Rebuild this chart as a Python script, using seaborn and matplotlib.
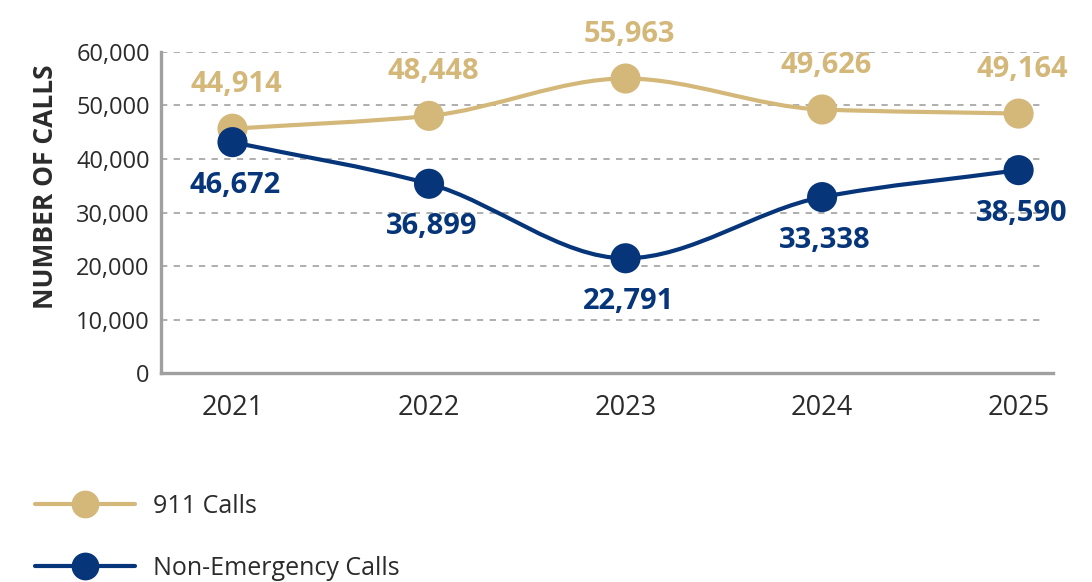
import numpy as np
import pandas as pd
import matplotlib
matplotlib.use("Agg")
import matplotlib.pyplot as plt
from matplotlib.path import Path
from matplotlib.patches import PathPatch
from matplotlib.lines import Line2D
from matplotlib.ticker import FuncFormatter
import seaborn as sns

# ---- data ----
years = ["2021", "2022", "2023", "2024", "2025"]
calls_911 = [45660, 48060, 55040, 49250, 48490]          # marker positions
calls_non_emergency = [43150, 35370, 21450, 32880, 37920]
labels_911 = ["44,914", "48,448", "55,963", "49,626", "49,164"]
labels_non_emergency = ["46,672", "36,899", "22,791", "33,338", "38,590"]
series_names = ["911 Calls", "Non-Emergency Calls"]
y_ticks = [0, 10000, 20000, 30000, 40000, 50000, 60000]

GOLD = "#D4B87A"
NAVY = "#06357A"
TEXT = "#2b2b2b"

sns.set_theme(style="white")
plt.rcParams["font.family"] = ["Open Sans", "DejaVu Sans"]

fig = plt.figure(figsize=(10.92, 5.82), dpi=100)
ax = fig.add_axes([0.1474, 0.359, 0.8169, 0.5517])

x = np.arange(len(years))
df = pd.DataFrame({
    "pos": np.concatenate([x, x]),
    "calls": calls_911 + calls_non_emergency,
    "series": [series_names[0]] * len(x) + [series_names[1]] * len(x),
})


def smooth_path(xs, ys):
    """Monotone cubic (Fritsch-Carlson) tangents turned into Bezier segments."""
    xs = np.asarray(xs, float)
    ys = np.asarray(ys, float)
    n = len(xs)
    h = np.diff(xs)
    d = np.diff(ys) / h
    m = np.zeros(n)
    m[0], m[-1] = d[0], d[-1]
    for i in range(1, n - 1):
        if d[i - 1] * d[i] <= 0:
            m[i] = 0.0
        else:
            m[i] = 2.0 / (1.0 / d[i - 1] + 1.0 / d[i])
    verts = [(xs[0], ys[0])]
    codes = [Path.MOVETO]
    for i in range(n - 1):
        verts += [(xs[i] + h[i] / 3, ys[i] + m[i] * h[i] / 3),
                  (xs[i + 1] - h[i] / 3, ys[i + 1] - m[i + 1] * h[i] / 3),
                  (xs[i + 1], ys[i + 1])]
        codes += [Path.CURVE4] * 3
    return Path(verts, codes)


# grid
for t in y_ticks[1:]:
    ax.axhline(t, xmax=0.985, color="#a8a8a8", lw=1.3, ls=(0, (3.5, 3.5)), zorder=0)

for vals, col in [(calls_911, GOLD), (calls_non_emergency, NAVY)]:
    ax.add_patch(PathPatch(smooth_path(x, vals), fill=False, edgecolor=col,
                           lw=3.0, zorder=2, capstyle="round"))

sns.scatterplot(data=df, x="pos", y="calls", hue="series",
                palette=[GOLD, NAVY], s=470, edgecolor="none",
                legend=False, ax=ax, zorder=3, clip_on=False)

for i in range(len(x)):
    ax.annotate(labels_911[i], (x[i], calls_911[i]), xytext=(3, 32),
                textcoords="offset points", ha="center", va="center",
                fontsize=21, fontweight="bold", color=GOLD, zorder=4)
    ax.annotate(labels_non_emergency[i], (x[i], calls_non_emergency[i]),
                xytext=(2, -31), textcoords="offset points", ha="center",
                va="center", fontsize=21, fontweight="bold", color=NAVY, zorder=4)

ax.set_xlim(-0.364, 4.175)
ax.set_ylim(0, 60000)
ax.set_xticks(x)
ax.set_xticklabels(years)
ax.set_yticks(y_ticks)
ax.yaxis.set_major_formatter(FuncFormatter(lambda v, p: f"{int(v):,}"))
ax.tick_params(axis="y", length=0, labelsize=17, colors=TEXT, pad=8)
ax.tick_params(axis="x", length=0, labelsize=19.5, colors=TEXT, pad=15)
ax.set_xlabel("")
ax.set_ylabel("NUMBER OF CALLS", fontsize=19, fontweight="bold", color=TEXT)
ax.yaxis.set_label_coords(-0.114, 0.58)

for side in ["top", "right"]:
    ax.spines[side].set_visible(False)
for side in ["left", "bottom"]:
    ax.spines[side].set_color("#a0a0a0")
    ax.spines[side].set_linewidth(2.4)

handles = [Line2D([0], [0], color=GOLD, lw=3.0, marker="o", markersize=20,
                  markeredgewidth=0),
           Line2D([0], [0], color=NAVY, lw=3.0, marker="o", markersize=20,
                  markeredgewidth=0)]
fig.legend(handles, series_names, loc="upper left", bbox_to_anchor=(0.023, 0.169),
           frameon=False, fontsize=18, handlelength=4.0, handletextpad=0.7,
           labelspacing=1.5, labelcolor=TEXT, borderaxespad=0)

fig.savefig("out.png", dpi=100, facecolor="white")
